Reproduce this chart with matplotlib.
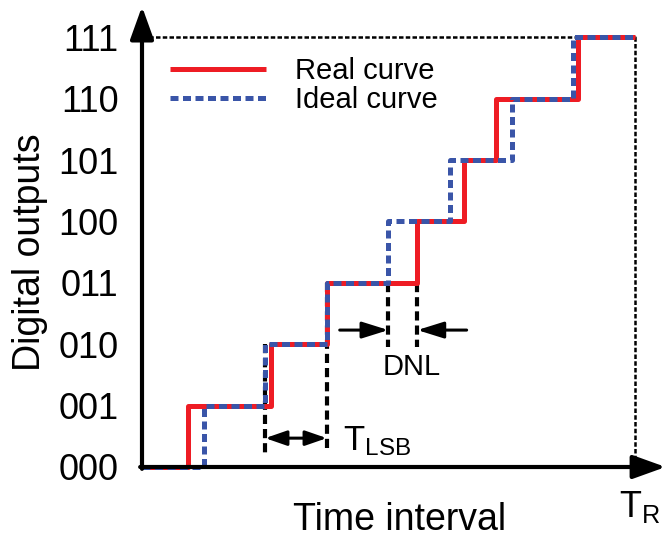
import matplotlib
matplotlib.use('Agg')
import matplotlib.pyplot as plt

plt.rcParams['font.family'] = ['Liberation Sans', 'DejaVu Sans']
plt.rcParams['mathtext.fontset'] = 'custom'
plt.rcParams['mathtext.rm'] = 'Liberation Sans'
plt.rcParams['mathtext.it'] = 'Liberation Sans'

# digital codes on the y axis
codes = ['000', '001', '010', '011', '100', '101', '110', '111']
levels = list(range(len(codes)))

# transition times, in units of T_LSB
ideal_edges = [1.0, 2.0, 3.0, 4.0, 5.0, 6.0, 7.0]
real_edges = [0.75, 2.1, 3.0, 4.47, 5.22, 5.74, 7.08]
t_range = 8.0

red = '#ee1c24'
blue = '#3a55a8'


def steps(edges):
    return [0.0] + edges + [t_range], levels + [levels[-1]]


fig = plt.figure(figsize=(6.65, 5.39), dpi=100)
ax = fig.add_axes([142 / 665, 72 / 539, 8.5 * 61.6 / 665, 7.5 * 61.4 / 539])
ax.set_xlim(0, 8.5)
ax.set_ylim(0, 7.5)
for s in ax.spines.values():
    s.set_visible(False)

# thin dotted frame up to T_R
ax.plot([0, t_range, t_range], [7, 7, 0], color='black', lw=1.8,
        dashes=(1.8, 0.9), clip_on=False, zorder=1)

xr, yr = steps(real_edges)
ax.step(xr, yr, where='post', color=red, lw=3.6, clip_on=False,
        label='Real curve', zorder=3, solid_capstyle='butt')
xi, yi = steps(ideal_edges)
ax.step(xi, yi, where='post', color=blue, lw=3.6, dashes=(1.6, 0.9),
        clip_on=False, label='Ideal curve', zorder=4, dash_capstyle='butt')

# axes with arrows
arrow = dict(arrowstyle='-|>,head_length=1.0,head_width=0.36', lw=3,
             color='black', mutation_scale=20, shrinkA=0, shrinkB=0)
ax.annotate('', xy=(8.5, 0), xytext=(-0.03, 0), arrowprops=arrow,
            annotation_clip=False, zorder=5)
ax.annotate('', xy=(0, 7.5), xytext=(0, -0.03), arrowprops=arrow,
            annotation_clip=False, zorder=5)

# T_LSB marker
black_dash = dict(color='black', lw=3, dashes=(2.2, 1.2), zorder=2)
ax.plot([2, 2], [2, 0.23], **black_dash)
ax.plot([3, 3], [3, 0.23], **black_dash)
small = dict(lw=2.2, color='black', mutation_scale=10, shrinkA=0, shrinkB=0)
ax.annotate('', xy=(2.0, 0.47), xytext=(3.0, 0.47),
            arrowprops=dict(arrowstyle='<|-|>,head_length=1.3,head_width=0.45', **small))
ax.text(3.26, 0.28, r'T$_{\mathrm{LSB}}$', fontsize=25, va='baseline', ha='left')

# DNL marker
ax.plot([4.0, 4.0], [3, 1.95], **black_dash)
ax.plot([4.47, 4.47], [3, 1.95], **black_dash)
ax.annotate('', xy=(4.0, 2.23), xytext=(3.21, 2.23),
            arrowprops=dict(arrowstyle='-|>,head_length=1.6,head_width=0.5', **small))
ax.annotate('', xy=(4.47, 2.23), xytext=(5.27, 2.23),
            arrowprops=dict(arrowstyle='-|>,head_length=1.6,head_width=0.5', **small))
ax.text(4.38, 1.63, 'DNL', fontsize=21, va='center', ha='center')

# ticks and labels
ax.set_xticks([])
ax.set_yticks(levels)
ax.set_yticklabels(codes)
ax.tick_params(axis='y', length=0, pad=17, labelsize=26)
ax.text(-1.82, 3.5, 'Digital outputs', rotation=90, fontsize=27,
        va='center', ha='center')
ax.text(4.18, -1.03, 'Time interval', fontsize=27, ha='center', va='baseline')
ax.text(7.75, -0.81, r'T$_{\mathrm{R}}$', fontsize=26, ha='left', va='baseline')

ax.legend(loc='upper left', bbox_to_anchor=(0.45, 6.68),
          bbox_transform=ax.transData, frameon=False, fontsize=21,
          handlelength=3.3, handletextpad=1.0, labelspacing=0.05,
          borderpad=0, borderaxespad=0)

fig.savefig('out.png', dpi=100)
